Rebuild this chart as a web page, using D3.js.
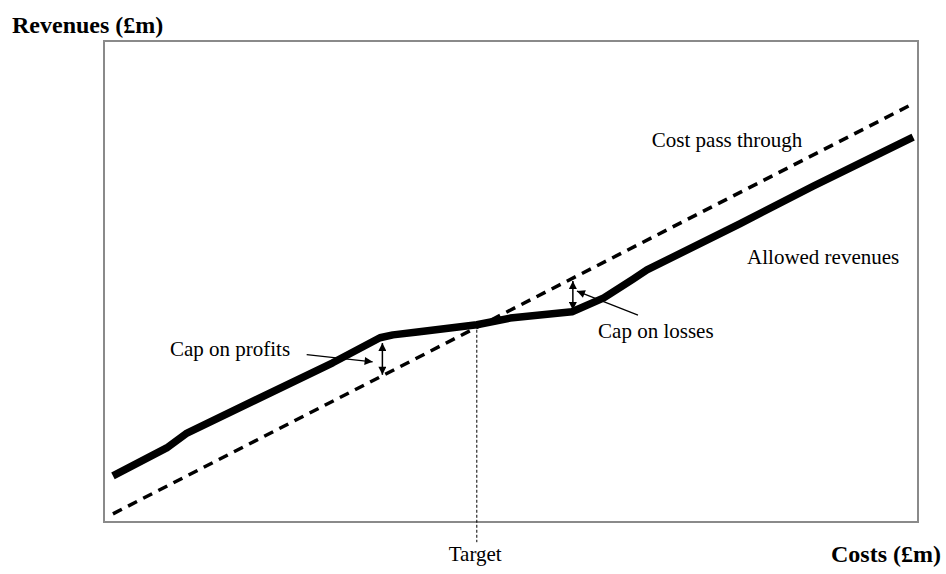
<!DOCTYPE html>
<html>
<head>
<meta charset="utf-8">
<script src="https://cdn.jsdelivr.net/npm/d3@7"></script>
<style>
  body { margin: 0; background: #fff; }
  svg text { font-family: "Liberation Serif", "Times New Roman", serif; fill: #000; }
</style>
</head>
<body>
<svg width="946" height="574"></svg>
<script>
// costs (x) and revenues (y) in chart units, 0..100
const passCosts = [1.1, 99.1];
const passRevenues = [1.7, 86.7];

const allowedCosts = [1.1, 7.7, 10.2, 28.1, 33.9, 35.5, 38.5, 45.8, 49.9, 57.5, 61.4, 65.0, 66.7, 78.1, 87.1, 93.7, 99.4];
const allowedRevenues = [9.6, 15.4, 18.5, 33.1, 38.3, 38.9, 39.5, 41.0, 42.4, 43.7, 46.6, 50.5, 52.4, 62.0, 69.8, 75.3, 80.0];

const targetCost = 45.8;
const targetRange = [41.0, -4.2];

const capProfits = { cost: 34.2, from: 37.2, to: 30.6 };
const capLosses = { cost: 57.6, from: 44.1, to: 50.1 };

const svg = d3.select("svg");

const x = d3.scaleLinear().domain([0, 100]).range([104, 918]);
const y = d3.scaleLinear().domain([0, 100]).range([522, 41]);

const defs = svg.append("defs");
defs.append("marker")
  .attr("id", "head")
  .attr("viewBox", "0 0 10 10")
  .attr("refX", 10).attr("refY", 5)
  .attr("markerWidth", 9).attr("markerHeight", 8)
  .attr("markerUnits", "userSpaceOnUse")
  .attr("orient", "auto-start-reverse")
  .append("path")
  .attr("d", "M0,0 L10,5 L0,10 z")
  .attr("fill", "#000");

// plot frame
svg.append("rect")
  .attr("x", x(0)).attr("y", y(100))
  .attr("width", x(100) - x(0)).attr("height", y(0) - y(100))
  .attr("fill", "none")
  .attr("stroke", "#8a8a8a")
  .attr("stroke-width", 2);

const line = d3.line().x(d => x(d[0])).y(d => y(d[1]));

// target marker
svg.append("line")
  .attr("x1", x(targetCost)).attr("x2", x(targetCost))
  .attr("y1", y(targetRange[0])).attr("y2", y(targetRange[1]))
  .attr("stroke", "#000")
  .attr("stroke-width", 1)
  .attr("stroke-dasharray", "3,2");

// cost pass through
svg.append("path")
  .datum(d3.zip(passCosts, passRevenues))
  .attr("d", line)
  .attr("fill", "none")
  .attr("stroke", "#000")
  .attr("stroke-width", 3.5)
  .attr("stroke-dasharray", "10,7");

// allowed revenues
svg.append("path")
  .datum(d3.zip(allowedCosts, allowedRevenues))
  .attr("d", line)
  .attr("fill", "none")
  .attr("stroke", "#000")
  .attr("stroke-width", 7.5)
  .attr("stroke-linejoin", "round");

// cap arrows
[capProfits, capLosses].forEach(c => {
  svg.append("line")
    .attr("x1", x(c.cost)).attr("x2", x(c.cost))
    .attr("y1", y(c.from)).attr("y2", y(c.to))
    .attr("stroke", "#000").attr("stroke-width", 1.5)
    .attr("marker-start", "url(#head)")
    .attr("marker-end", "url(#head)");
});

// pointers from labels
const pointers = [
  [[24.9, 34.8], [33.0, 33.3]],
  [[65.6, 43.0], [58.1, 48.0]]
];
pointers.forEach(p => {
  svg.append("line")
    .attr("x1", x(p[0][0])).attr("y1", y(p[0][1]))
    .attr("x2", x(p[1][0])).attr("y2", y(p[1][1]))
    .attr("stroke", "#000").attr("stroke-width", 1.2)
    .attr("marker-end", "url(#head)");
});

// labels
const labels = [
  { text: "Cost pass through", cx: 67.3, cy: 77.9, anchor: "start" },
  { text: "Allowed revenues", cx: 79.0, cy: 53.6, anchor: "start" },
  { text: "Cap on losses", cx: 60.7, cy: 38.2, anchor: "start" },
  { text: "Cap on profits", cx: 8.1, cy: 34.5, anchor: "start" },
  { text: "Target", cx: 45.6, cy: -8.1, anchor: "middle" }
];
svg.selectAll("text.lbl")
  .data(labels)
  .enter().append("text")
  .attr("class", "lbl")
  .attr("x", d => x(d.cx))
  .attr("y", d => y(d.cy))
  .attr("text-anchor", d => d.anchor)
  .style("font-size", "21px")
  .text(d => d.text);

// axis titles
svg.append("text")
  .attr("x", 12).attr("y", 33)
  .style("font-size", "24px").style("font-weight", "bold")
  .text("Revenues (£m)");

svg.append("text")
  .attr("x", 941).attr("y", 562)
  .attr("text-anchor", "end")
  .style("font-size", "24px").style("font-weight", "bold")
  .text("Costs (£m)");
</script>
</body>
</html>
